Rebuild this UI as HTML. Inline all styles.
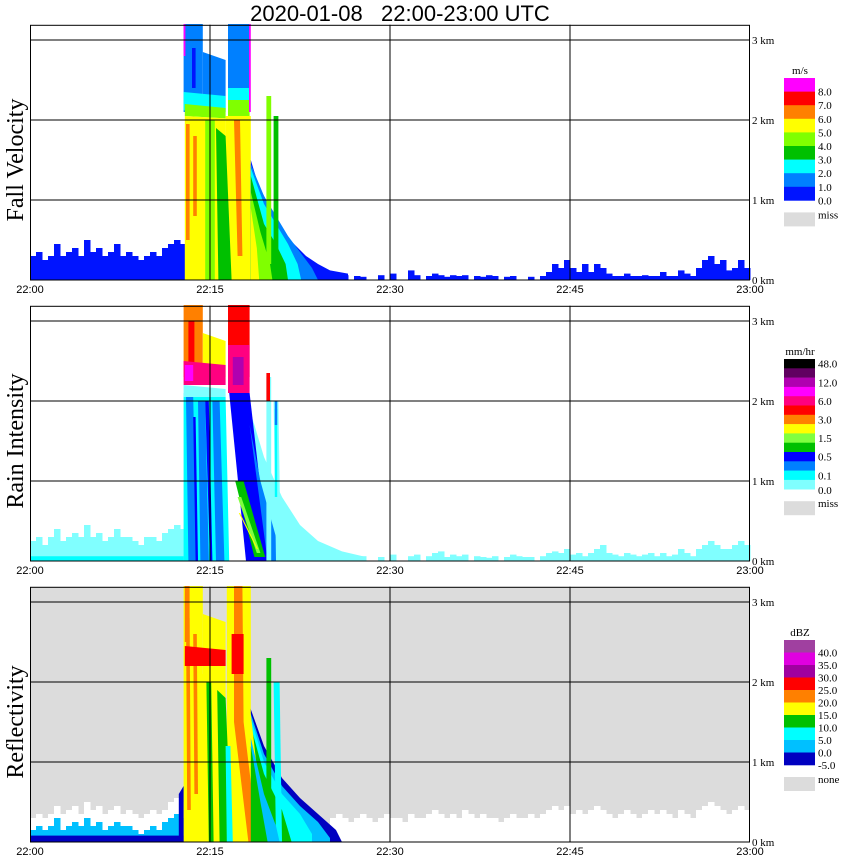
<!DOCTYPE html>
<html><head><meta charset="utf-8"><style>
html,body{margin:0;padding:0;background:#fff;}
svg{display:block;}
</style></head><body>
<svg id="chart" width="850" height="868" viewBox="0 0 850 868" xmlns="http://www.w3.org/2000/svg">
<text x="400" y="21" text-anchor="middle" font-family="Liberation Sans, sans-serif" font-size="22">2020-01-08&#160;&#160;&#160;22:00-23:00 UTC</text>
<g id="panels"></g>
</svg>
<script>
// ===== shared axis data =====
const timeTickMin = [0, 15, 30, 45, 60];
const timeTickLabels = ["22:00", "22:15", "22:30", "22:45", "23:00"];
const heightTicksKm = [0, 1, 2, 3];
const heightTickLabels = ["0 km", "1 km", "2 km", "3 km"];

// ===== Panel 1: fall velocity =====
const velColors = ["#0014ff","#0080ff","#00ffff","#00c000","#80ff00","#ffff00","#ff8000","#ff0000","#ff00ff"];
const velLegendLabels = ["8.0","7.0","6.0","5.0","4.0","3.0","2.0","1.0","0.0"];
const velClutterPre = [0.3,0.35,0.25,0.3,0.45,0.3,0.35,0.4,0.3,0.5,0.35,0.4,0.3,0.35,0.45,0.3,0.35,0.3,0.25,0.3,0.35,0.3,0.4,0.45,0.5,0.45];
const velClutterPost = [0.06,0.05,0.06,0,0.05,0.04,0,0,0.06,0,0.08,0,0,0.12,0.06,0,0.05,0.08,0.06,0.04,0.06,0.05,0.06,0,0.05,0.04,0.06,0.05,0,0.04,0.05,0,0,0.04,0,0.05,0.1,0.2,0.15,0.25,0.15,0.1,0.2,0.1,0.2,0.15,0.08,0.05,0.05,0.08,0.05,0.05,0.06,0.05,0.05,0.1,0.05,0.05,0.12,0.08,0.05,0.15,0.25,0.3,0.2,0.25,0.12,0.15,0.25,0.15];
const velPolyLevel = [1,1,1,0,8,2,2,4,4,5,5,6,6,6,4,3,0,1,2,3,4,5,4,3,8];
const velPolyPts = [
 [12.8,3.2,14.4,3.2,14.4,2.1,12.8,2.1],
 [14.4,2.85,16.3,2.75,16.3,2.1,14.4,2.1],
 [16.5,3.2,18.3,3.2,18.3,2.1,16.5,2.1],
 [13.5,2.9,13.8,2.9,13.8,2.4,13.5,2.4],
 [12.8,3.2,12.95,3.2,12.95,2.8,12.8,2.8],
 [12.8,2.35,16.3,2.3,16.3,2.12,12.8,2.12],
 [16.5,2.4,18.3,2.4,18.3,2.15,16.5,2.15],
 [12.9,2.2,16.3,2.15,16.3,2.02,12.9,2.05],
 [16.5,2.25,18.3,2.25,18.3,2.05,16.5,2.05],
 [12.9,2.05,16.3,2.02,16.3,0,12.9,0],
 [16.3,2.05,18.4,2.05,18.4,0,16.3,0],
 [13.0,1.95,13.3,1.95,13.3,0.5,13.0,0.5],
 [13.6,1.8,13.9,1.8,13.9,0.8,13.6,0.8],
 [17.0,2.0,17.5,2.0,17.7,0.3,17.3,0.3],
 [14.6,2.0,15.4,2.0,15.4,0,14.6,0],
 [15.5,1.9,16.3,1.8,16.8,0,15.7,0],
 [18.4,1.5,19.0,1.2,20,0.9,21,0.6,22,0.45,23,0.3,24,0.2,25,0.12,26.5,0.08,26.5,0,18.4,0],
 [18.4,1.45,19.5,1.05,20.5,0.8,21.5,0.55,22.5,0.35,23.5,0.15,24,0,18.4,0],
 [18.4,1.4,19.5,0.95,20.5,0.7,21.5,0.45,22.3,0.2,22.6,0,18.4,0],
 [18.4,1.3,19.5,0.7,20.5,0.45,21.3,0.2,21.5,0,18.4,0],
 [18.4,1.1,19.2,0.6,20,0.2,20.2,0,18.4,0],
 [18.4,0.9,18.9,0.4,19.1,0,18.4,0],
 [19.7,2.3,20.1,2.3,20.1,0.2,19.7,0.2],
 [20.3,2.05,20.7,2.05,20.7,0.3,20.3,0.3],
 [18.25,3.2,18.4,3.2,18.4,2.1,18.25,2.1]
];

// ===== Panel 2: rain intensity =====
const rainColors = ["#80ffff","#00ffff","#0080ff","#0000ff","#00c000","#80ff40","#ffff00","#ff8000","#ff0000","#ff0080","#ff00ff","#b000b0","#600060","#000000"];
const rainLegendLabels = ["48.0","12.0","6.0","3.0","1.5","0.5","0.1","0.0"];
const rainClutterPre = [0.25,0.3,0.2,0.3,0.4,0.25,0.3,0.35,0.3,0.45,0.3,0.35,0.25,0.3,0.4,0.3,0.3,0.25,0.2,0.3,0.3,0.25,0.35,0.4,0.45,0.4];
const rainClutterPost = [0.06,0.05,0.04,0,0.05,0.06,0,0,0.05,0,0.08,0,0,0.06,0.08,0,0.06,0.1,0.12,0.05,0.08,0.06,0.08,0,0.06,0.05,0.04,0.06,0,0.05,0.08,0.06,0.05,0.05,0,0.06,0.1,0.12,0.1,0.15,0.08,0.1,0.06,0.1,0.15,0.2,0.1,0.08,0.06,0.1,0.08,0.06,0.08,0.1,0.06,0.1,0.06,0.08,0.15,0.1,0.06,0.15,0.2,0.25,0.2,0.15,0.15,0.2,0.25,0.2];
const rainPolyLevel = [0,1,2,2,2,3,3,3,2,4,5,6,7,8,6,8,9,10,9,11,0,0,1,2,0,8,1];
const rainPolyPts = [
 [18.3,1.9,19.5,1.3,21,0.8,22.5,0.45,24,0.25,26,0.12,28,0.05,28,0,18.3,0],
 [12.8,2.1,16.3,2.05,16.6,0,12.8,0],
 [13.0,2.05,13.6,2.05,13.9,0,13.2,0],
 [14.0,2.0,14.6,2.0,14.9,0,14.2,0],
 [15.2,2.0,15.8,2.0,16.2,0,15.5,0],
 [13.6,1.8,13.8,1.8,14.0,0,13.8,0],
 [14.6,2.0,14.9,2.0,15.2,0,15.0,0],
 [16.6,2.1,18.3,2.1,19.9,0,18.0,0],
 [18.3,1.7,19.2,1.0,20.5,0.3,20.8,0,19.8,0],
 [17.1,1.0,17.8,1.0,19.6,0.05,18.7,0.05],
 [17.3,0.8,17.6,0.8,19.2,0.1,18.9,0.1],
 [17.4,0.6,17.5,0.6,19.0,0.15,18.9,0.15],
 [12.8,3.2,14.4,3.2,14.4,2.3,12.8,2.3],
 [13.2,3.0,13.7,3.0,13.7,2.4,13.2,2.4],
 [14.4,2.85,16.3,2.75,16.3,2.3,14.4,2.3],
 [16.5,3.2,18.3,3.2,18.3,2.3,16.5,2.3],
 [12.8,2.5,16.3,2.45,16.3,2.2,12.8,2.2],
 [12.9,2.45,13.6,2.45,13.6,2.25,12.9,2.25],
 [16.5,2.7,18.3,2.7,18.3,2.1,16.5,2.1],
 [16.9,2.55,17.8,2.55,17.8,2.2,16.9,2.2],
 [19.7,2.3,20.1,2.3,20.1,0,19.7,0],
 [20.3,2.0,20.7,2.0,20.9,0,20.5,0],
 [20.4,1.9,20.6,1.9,20.6,0.8,20.4,0.8],
 [20.4,2.0,20.6,2.0,20.6,1.7,20.4,1.7],
 [12.8,2.2,16.3,2.15,16.3,2.05,12.8,2.05],
 [19.7,2.35,20.0,2.35,20.0,2.0,19.7,2.0],
 [0,0.06,12.8,0.06,12.8,0,0,0]
];

// ===== Panel 3: reflectivity =====
const dbzColors = ["#0000c0","#00c0ff","#00ffff","#00c000","#ffff00","#ff8000","#ff0000","#a000a0","#e000e0","#a040a0"];
const dbzLegendLabels = ["40.0","35.0","30.0","25.0","20.0","15.0","10.0","5.0","0.0","-5.0"];
const dbzClutterPre = [0.3,0.35,0.3,0.35,0.45,0.35,0.4,0.45,0.35,0.5,0.4,0.45,0.35,0.4,0.45,0.35,0.4,0.35,0.3,0.35,0.4,0.35,0.4,0.5,0.55,0.5];
const dbzClutterPreInner = [0.15,0.2,0.15,0.2,0.3,0.15,0.2,0.25,0.2,0.3,0.2,0.25,0.15,0.2,0.25,0.2,0.2,0.15,0.1,0.15,0.2,0.15,0.25,0.3,0.35,0.3];
const dbzClutterPost = [0.3,0.35,0.3,0.25,0.3,0.35,0.3,0.25,0.3,0.35,0.3,0.3,0.25,0.35,0.3,0.3,0.35,0.4,0.35,0.3,0.35,0.3,0.4,0.35,0.3,0.35,0.3,0.3,0.25,0.3,0.35,0.3,0.3,0.35,0.3,0.35,0.4,0.45,0.4,0.45,0.35,0.4,0.35,0.4,0.45,0.4,0.35,0.3,0.35,0.4,0.35,0.3,0.35,0.4,0.35,0.4,0.35,0.3,0.4,0.35,0.3,0.4,0.45,0.5,0.45,0.4,0.35,0.4,0.45,0.4];
const dbzPolyLevel = [0,1,2,3,4,4,4,5,5,3,3,5,6,6,3,2,1,3,2,5,0];
const dbzPolyPts = [
 [18.3,1.7,19.5,1.2,21,0.8,22.5,0.55,24,0.35,25.5,0.15,26,0,18.3,0],
 [18.3,1.65,19.5,1.1,21,0.7,22.5,0.45,24,0.25,25,0.05,25,0,18.3,0],
 [18.3,1.6,19.5,1.0,21,0.6,22.5,0.35,23.5,0.1,23.5,0,18.3,0],
 [18.3,1.5,19.5,0.85,21,0.4,21.8,0,18.3,0],
 [12.8,3.2,14.4,3.2,14.4,2.1,16.3,2.1,16.3,0,12.8,0],
 [14.4,2.85,16.3,2.75,16.3,2.1,14.4,2.1],
 [16.4,3.2,18.4,3.2,18.4,1.6,19.6,0,16.4,0],
 [13.0,2.8,13.3,2.8,13.4,0.4,13.1,0.4],
 [13.6,2.6,13.9,2.6,14.0,0.6,13.7,0.6],
 [14.7,2.0,15.1,2.0,15.3,0,14.9,0],
 [15.6,1.9,16.3,1.8,16.8,0,15.8,0],
 [17.0,3.2,17.7,3.2,17.8,1.5,19.0,0,18.2,0,17.0,1.5],
 [12.9,2.45,16.3,2.4,16.3,2.2,12.9,2.2],
 [16.8,2.6,17.8,2.6,17.8,2.1,16.8,2.1],
 [19.7,2.3,20.1,2.3,20.1,0,19.7,0],
 [20.3,2.0,20.8,2.0,21.0,0,20.5,0],
 [18.4,1.3,19.5,0.6,20.5,0.2,20.8,0,18.6,0],
 [18.4,1.2,19.2,0.5,19.8,0,18.4,0],
 [16.3,1.2,16.7,1.2,16.9,0,16.4,0],
 [12.9,3.2,13.3,3.2,13.3,2.5,12.9,2.5],
 [12.4,0.6,12.8,0.7,12.8,0,12.4,0]
];

const panels = [
 {name:"fall-velocity", title:"Fall Velocity", bottom:280, colors:velColors, legendTop:78, boxH:13.6, legendUnit:"m/s", legendLabels:velLegendLabels, labelStep:1, missLabel:"miss", pre:velClutterPre, preColor:velColors[0], preInner:null, post:velClutterPost, postColor:velColors[0], polyLevel:velPolyLevel, polyPts:velPolyPts, bg:"#ffffff"},
 {name:"rain-intensity", title:"Rain Intensity", bottom:561, colors:rainColors, legendTop:359, boxH:9.3, legendUnit:"mm/hr", legendLabels:rainLegendLabels, labelStep:2, missLabel:"miss", pre:rainClutterPre, preColor:rainColors[0], preInner:null, post:rainClutterPost, postColor:rainColors[0], polyLevel:rainPolyLevel, polyPts:rainPolyPts, bg:"#ffffff"},
 {name:"reflectivity", title:"Reflectivity", bottom:842, colors:dbzColors, legendTop:640, boxH:12.5, legendUnit:"dBZ", legendLabels:dbzLegendLabels, labelStep:1, missLabel:"none", pre:dbzClutterPre, preColor:"#ffffff", preInner:dbzClutterPreInner, post:dbzClutterPost, postColor:"#ffffff", polyLevel:dbzPolyLevel, polyPts:dbzPolyPts, bg:"#dcdcdc"}
];

const NS = "http://www.w3.org/2000/svg";
const X0 = 30, PXMIN = 12, PXKM = 80, TOPKM = 3.19;
function xs(t){ return X0 + t * PXMIN; }
function mk(tag, attrs, parent){ const e = document.createElementNS(NS, tag); for (const k in attrs) e.setAttribute(k, attrs[k]); parent.appendChild(e); return e; }
const root = document.getElementById('panels');

panels.forEach((p) => {
  const ys = (h) => p.bottom - h * PXKM;
  const g = mk('g', {}, root);
  
  
  const bg = mk('rect', {x:X0, y:ys(TOPKM), width:720, height:TOPKM*PXKM, fill:p.bg}, g);
  
  
  p.pre.forEach((h, i) => {
    if (h <= 0) return;
    const r = mk('rect', {x:xs(i*0.5), y:ys(h), width:PXMIN*0.5+0.5, height:h*PXKM, fill:p.preColor}, g);
    
    
  });
  if (p.preInner) p.preInner.forEach((h, i) => {
    const r = mk('rect', {x:xs(i*0.5), y:ys(h), width:PXMIN*0.5+0.5, height:h*PXKM, fill:p.colors[1]}, g);
    
    
    const r2 = mk('rect', {x:xs(i*0.5), y:ys(Math.min(h,0.08)), width:PXMIN*0.5+0.5, height:Math.min(h,0.08)*PXKM, fill:p.colors[0]}, g);
    
    
  });
  p.post.forEach((h, i) => {
    if (h <= 0) return;
    const r = mk('rect', {x:xs(25 + i*0.5), y:ys(h), width:PXMIN*0.5+0.5, height:h*PXKM, fill:p.postColor}, g);
    
    
  });
  p.polyPts.forEach((pts, i) => {
    const coords = [];
    for (let k = 0; k < pts.length; k += 2) coords.push(xs(pts[k]).toFixed(1) + ',' + ys(pts[k+1]).toFixed(1));
    const pg = mk('polygon', {points:coords.join(' '), fill:p.colors[p.polyLevel[i]]}, g);
    
    
  });
  heightTicksKm.forEach((h, i) => {
    if (h > 0) {
      const l = mk('line', {x1:X0, x2:750, y1:ys(h), y2:ys(h), stroke:'#000', 'stroke-width':1}, g);
      
      
    }
    const t = mk('text', {x:752, y:ys(h)+4, 'font-family':'Liberation Serif, serif', 'font-size':11}, g);
    t.textContent = heightTickLabels[i];
    
    
  });
  timeTickMin.forEach((m, i) => {
    if (m > 0 && m < 60) {
      const l = mk('line', {x1:xs(m), x2:xs(m), y1:ys(TOPKM), y2:ys(0), stroke:'#000', 'stroke-width':1}, g);
      
      
    }
    const t = mk('text', {x:xs(m), y:p.bottom+13, 'text-anchor':'middle', 'font-family':'Liberation Sans, sans-serif', 'font-size':11}, g);
    t.textContent = timeTickLabels[i];
    
    
  });
  const fr = mk('rect', {x:X0+0.5, y:ys(TOPKM)+0.5, width:719, height:TOPKM*PXKM-0.5, fill:'none', stroke:'#000', 'stroke-width':1}, g);
  
  
  const cy = p.bottom - 120;
  const yt = mk('text', {x:0, y:0, transform:'translate(23,' + cy + ') rotate(-90)', 'text-anchor':'middle', 'font-family':'Liberation Serif, serif', 'font-size':24}, g);
  yt.textContent = p.title;
  
  
  const lg = mk('g', {}, g);
  
  
  const n = p.colors.length;
  const un = mk('text', {x:800, y:p.legendTop-4, 'text-anchor':'middle', 'font-family':'Liberation Serif, serif', 'font-size':11}, lg);
  un.textContent = p.legendUnit;
  
  
  for (let k = 0; k < n; k++) {
    const r = mk('rect', {x:784, y:p.legendTop + k*p.boxH, width:31, height:p.boxH+0.3, fill:p.colors[n-1-k]}, lg);
    
    
  }
  p.legendLabels.forEach((lab, k) => {
    const yy = p.legendTop + (p.labelStep === 2 ? (k*2 + 0.5) : (k + 1)) * p.boxH + 4;
    const t = mk('text', {x:818, y:yy + (p.labelStep===2 && k===rainLegendLabels.length-1 ? -4 : 0), 'font-family':'Liberation Serif, serif', 'font-size':11}, lg);
    t.textContent = lab;
    
    
  });
  const legBottom = p.legendTop + n*p.boxH;
  const mr = mk('rect', {x:784, y:legBottom + 12, width:31, height:14, fill:'#dcdcdc'}, lg);
  
  
  const mt = mk('text', {x:818, y:legBottom + 18, 'font-family':'Liberation Serif, serif', 'font-size':11}, lg);
  mt.textContent = p.missLabel;
  
  
});
</script>
</body></html>
